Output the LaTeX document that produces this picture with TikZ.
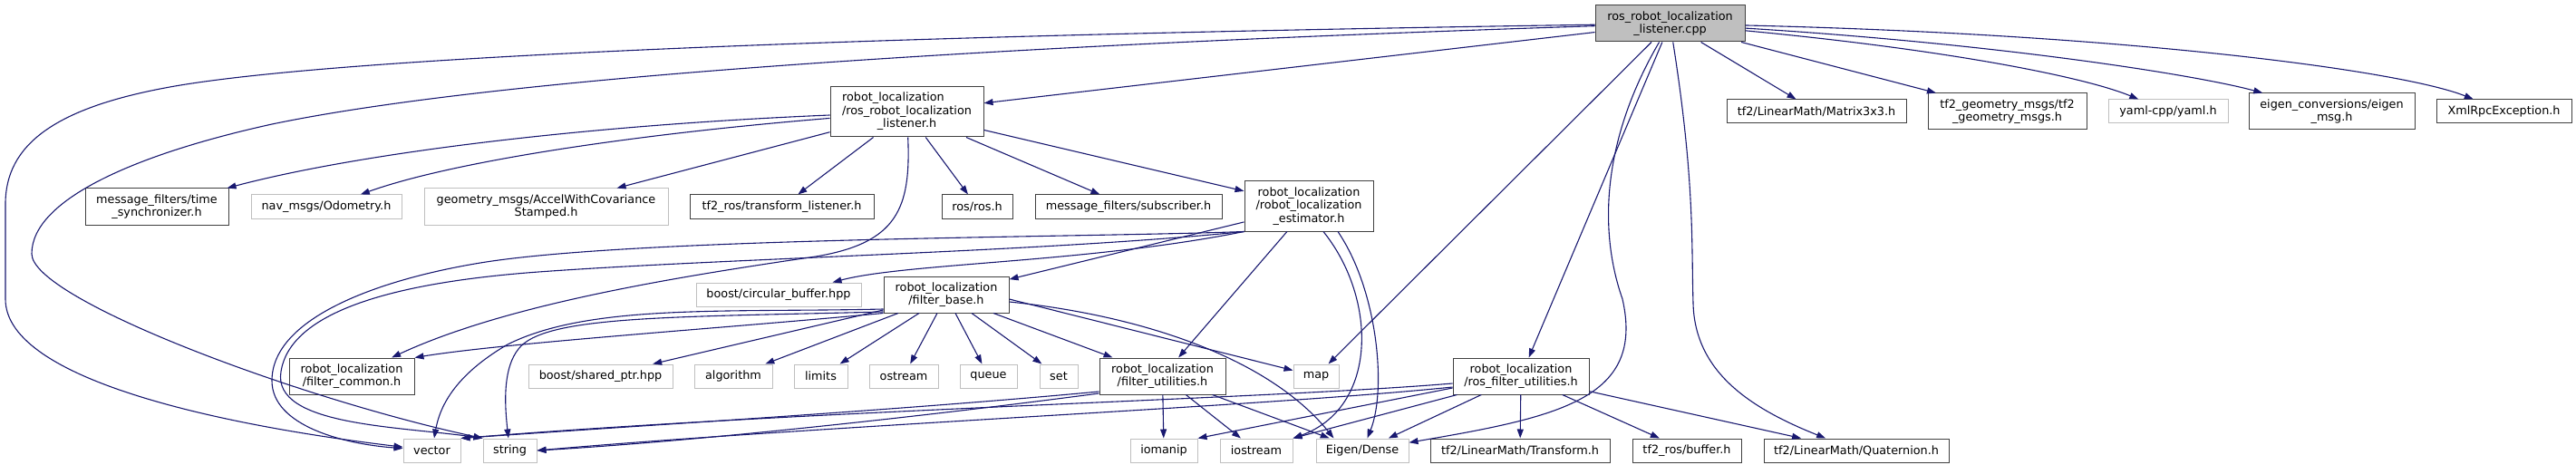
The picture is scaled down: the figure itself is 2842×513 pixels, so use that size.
\documentclass[tikz,border=0pt]{standalone}
\usepackage{fontspec}
\setmainfont{DejaVu Sans}
\usetikzlibrary{arrows.meta}
\definecolor{edgeblue}{HTML}{191970}
\definecolor{boxline}{HTML}{404040}
\definecolor{sysline}{HTML}{BFBFBF}
\definecolor{rootfill}{HTML}{BFBFBF}
\begin{document}
\begin{tikzpicture}[x=1pt, y=-1pt, >={Triangle[length=10pt,width=7pt]},
  hdr/.style={draw=boxline, line width=1pt, fill=white, inner sep=1pt,
    font=\fontsize{12.8}{14.5}\selectfont, align=center},
  sys/.style={hdr, draw=sysline},
  root/.style={hdr, fill=rootfill},
  one/.style={minimum height=26pt},
  two/.style={minimum height=40pt},
  three/.style={minimum height=55pt},
  inc/.style={->, draw=edgeblue, line width=1.1pt}]
  \useasboundingbox (0,0) rectangle (2842,513);

  % top two rows
  \node[root, two, minimum width=165pt] (cpp) at (1842.5,26) {ros\_robot\_localization\\\_listener.cpp};
  \node[hdr, three, minimum width=169pt] (rll) at (1000.5,123.5)
    {\begin{tabular}{@{}l@{}}robot\_localization\\/ros\_robot\_localization\\\multicolumn{1}{@{}c@{}}{\_listener.h}\end{tabular}};
  \node[hdr, one, minimum width=198pt] (matrix) at (2004,123) {tf2/LinearMath/Matrix3x3.h};
  \node[hdr, two, minimum width=175pt] (tf2geo) at (2214.5,123) {tf2\_geometry\_msgs/tf2\\\_geometry\_msgs.h};
  \node[sys, one, minimum width=132pt] (yaml) at (2392,123) {yaml-cpp/yaml.h};
  \node[hdr, two, minimum width=183pt] (eigmsg) at (2572.5,123) {eigen\_conversions/eigen\\\_msg.h};
  \node[hdr, one, minimum width=149pt] (xmlrpc) at (2762.5,123) {XmlRpcException.h};

  \node[hdr, two, minimum width=158pt] (tsync) at (173,228) {message\_filters/time\\\_synchronizer.h};
  \node[sys, one, minimum width=166pt] (odom) at (360,228) {nav\_msgs/Odometry.h};
  \node[sys, two, minimum width=269pt] (accel) at (602.5,228) {geometry\_msgs/AccelWithCovariance\\Stamped.h};
  \node[hdr, one, minimum width=203pt] (tflist) at (862.5,228) {tf2\_ros/transform\_listener.h};
  \node[hdr, one, minimum width=78pt] (rosh) at (1078,228) {ros/ros.h};
  \node[hdr, one, minimum width=206pt] (subs) at (1245,228) {message\_filters/subscriber.h};
  \node[hdr, three, minimum width=142pt] (est) at (1444,227.5) {robot\_localization\\/robot\_localization\\\_estimator.h};

  \node[sys, one, minimum width=182pt] (circ) at (859,325) {boost/circular\_buffer.hpp};
  \node[hdr, two, minimum width=138pt] (fbase) at (1044,325) {robot\_localization\\/filter\_base.h};

  % lower rows
  \node[hdr, two, minimum width=138pt] (fcommon) at (388,415) {robot\_localization\\/filter\_common.h};
  \node[sys, one, minimum width=159pt] (shptr) at (662.5,415) {boost/shared\_ptr.hpp};
  \node[sys, one, minimum width=86pt] (algorithm) at (809,415) {algorithm};
  \node[sys, one, minimum width=59pt] (limits) at (905.5,415) {limits};
  \node[sys, one, minimum width=76pt] (ostream) at (997,415) {ostream};
  \node[sys, one, minimum width=63pt] (queue) at (1090.5,415) {queue};
  \node[sys, one, minimum width=42pt] (set) at (1168,415) {set};
  \node[hdr, two, minimum width=139pt] (futil) at (1282.5,415) {robot\_localization\\/filter\_utilities.h};
  \node[sys, one, minimum width=50pt] (map) at (1452,415) {map};
  \node[hdr, two, minimum width=150pt] (rfutil) at (1678,415) {robot\_localization\\/ros\_filter\_utilities.h};

  \node[sys, one, minimum width=63pt] (vector) at (476.5,497) {vector};
  \node[sys, one, minimum width=59pt] (string) at (562.5,497) {string};
  \node[sys, one, minimum width=74pt] (iomanip) at (1284,497) {iomanip};
  \node[sys, one, minimum width=80pt] (iostream) at (1386,497) {iostream};
  \node[sys, one, minimum width=102pt] (eigen) at (1503,497) {Eigen/Dense};
  \node[hdr, one, minimum width=198pt] (transform) at (1677,497) {tf2/LinearMath/Transform.h};
  \node[hdr, one, minimum width=120pt] (buffer) at (1861,497) {tf2\_ros/buffer.h};
  \node[hdr, one, minimum width=204pt] (quat) at (2048,497) {tf2/LinearMath/Quaternion.h};

  % includes of the .cpp
  \draw[inc] (cpp) -- (rll);
  \draw[inc] (cpp) .. controls (900,40) and (350,65) .. (182,97) .. controls (60,120) and (6,160) .. (6,225)
    -- (6,330) .. controls (6,420) and (250,470) .. (vector);
  \draw[inc] (cpp) .. controls (1100,50) and (550,85) .. (300,137) .. controls (150,170) and (35,220) .. (35,280)
    .. controls (35,330) and (330,440) .. (string.north west);
  \draw[inc] (cpp) -- (map);
  \draw[inc] (cpp) -- (rfutil);
  \draw[inc] (cpp) .. controls (1770,150) and (1762,250) .. (1790,330) .. controls (1815,440) and (1720,460) .. (eigen);
  \draw[inc] (cpp) .. controls (1870,200) and (1866,270) .. (1868,335) .. controls (1870,410) and (1930,450) .. (quat);
  \draw[inc] (cpp) -- (matrix);
  \draw[inc] (cpp) -- (tf2geo);
  \draw[inc] (cpp) .. controls (2150,55) and (2300,85) .. (yaml);
  \draw[inc] (cpp) .. controls (2200,48) and (2420,82) .. (eigmsg);
  \draw[inc] (cpp) .. controls (2350,38) and (2650,78) .. (xmlrpc);

  % listener header
  \draw[inc] (rll) .. controls (650,138) and (400,168) .. (tsync);
  \draw[inc] (rll) .. controls (700,148) and (500,178) .. (odom);
  \draw[inc] (rll) -- (accel);
  \draw[inc] (rll) -- (tflist);
  \draw[inc] (rll) -- (rosh);
  \draw[inc] (rll) -- (subs);
  \draw[inc] (rll) -- (est);
  \draw[inc] (rll) .. controls (1005,230) and (990,268) .. (900,283) .. controls (750,305) and (560,335) .. (fcommon);

  % estimator
  \draw[inc] (est.south west) .. controls (1200,262) and (700,262) .. (530,290) .. controls (420,308) and (300,350) .. (300,420)
    .. controls (300,470) and (380,490) .. (vector);
  \draw[inc] (est.south west) .. controls (1150,278) and (800,285) .. (594,300) .. controls (430,312) and (320,345) .. (310,410)
    .. controls (300,470) and (440,470) .. (string.north west);
  \draw[inc] (est.south west) .. controls (1200,290) and (1000,290) .. ([xshift=-32pt]circ.north east);
  \draw[inc] (est) -- (fbase);
  \draw[inc] (est) -- (futil);
  \draw[inc] ([xshift=16pt]est.south) .. controls (1520,330) and (1520,450) .. (iostream.north east);
  \draw[inc] ([xshift=32pt]est.south) .. controls (1520,320) and (1530,430) .. (eigen);

  % filter base
  \draw[inc] ([yshift=-16pt]fbase.west) .. controls (800,345) and (650,335) .. (560,380) .. controls (500,415) and (485,450) .. (vector);
  \draw[inc] ([yshift=-19pt]fbase.west) .. controls (740,350) and (600,348) .. (572,385) .. controls (556,405) and (556,440) .. (string);
  \draw[inc] (fbase.south west) .. controls (800,362) and (560,378) .. (fcommon.north east);
  \draw[inc] ([yshift=-17pt]fbase.west) -- (shptr);
  \draw[inc] ([xshift=-53pt]fbase.south) -- (algorithm);
  \draw[inc] ([xshift=-30pt]fbase.south) -- (limits);
  \draw[inc] ([xshift=-10pt]fbase.south) -- (ostream);
  \draw[inc] ([xshift=10pt]fbase.south) -- (queue);
  \draw[inc] ([xshift=28pt]fbase.south) -- (set);
  \draw[inc] ([xshift=52pt]fbase.south) -- (futil);
  \draw[inc] ([yshift=-5pt]fbase.east) -- (map);
  \draw[inc] ([yshift=-8pt]fbase.east) .. controls (1260,348) and (1400,395) .. ([xshift=20pt]eigen.north west);

  % filter utilities
  \draw[inc] (futil) -- (iomanip);
  \draw[inc] (futil) -- (iostream);
  \draw[inc] (futil) -- (eigen);
  \draw[inc] ([yshift=-17pt]futil.west) .. controls (1000,452) and (700,470) .. (vector.north east);
  \draw[inc] ([yshift=-19pt]futil.west) .. controls (1000,462) and (750,488) .. (string.east);

  % ros filter utilities
  \draw[inc] ([yshift=-8pt]rfutil.west) .. controls (1400,440) and (900,452) .. (vector.north east);
  \draw[inc] ([yshift=-12pt]rfutil.west) .. controls (1400,448) and (900,470) .. (string.east);
  \draw[inc] ([yshift=-13pt]rfutil.west) -- (iomanip.north east);
  \draw[inc] ([xshift=5pt]rfutil.south west) -- (iostream.north east);
  \draw[inc] (rfutil) -- (eigen);
  \draw[inc] (rfutil) -- (transform);
  \draw[inc] (rfutil) -- (buffer);
  \draw[inc] (rfutil) -- (quat);
\end{tikzpicture}
\end{document}
